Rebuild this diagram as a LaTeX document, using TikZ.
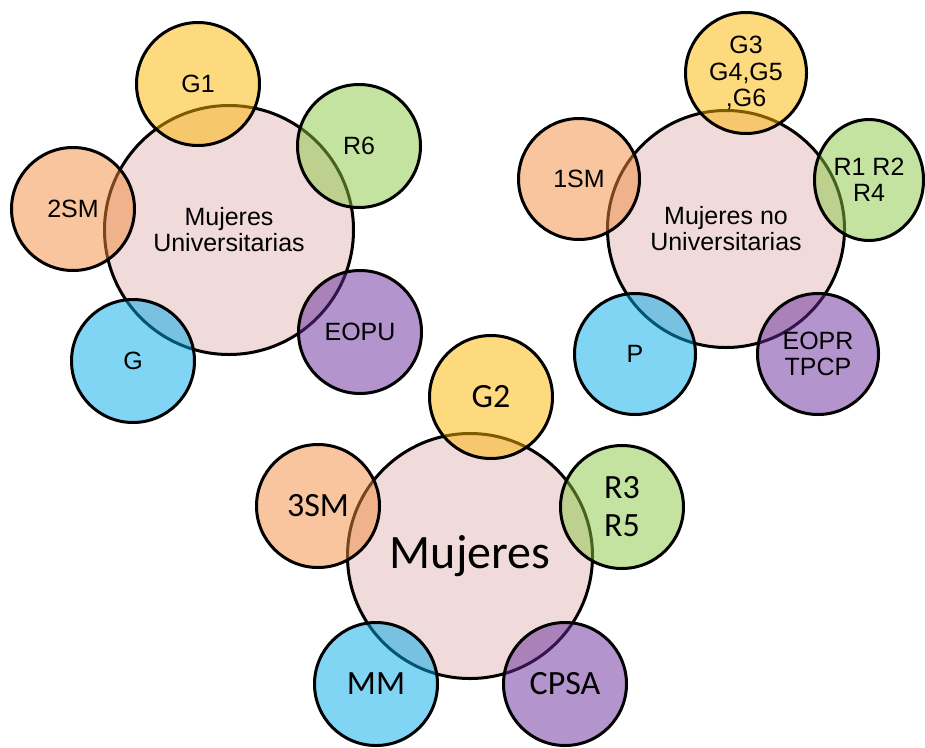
\documentclass[tikz,border=0pt]{standalone}
\usepackage{fontspec}
\setmainfont{Liberation Sans}
\newfontfamily\calfont{Carlito}
\usetikzlibrary{shapes.geometric}
\definecolor{cpink}{RGB}{240,218,218}
\definecolor{cyel}{RGB}{253,181,0}
\definecolor{cgrn}{RGB}{139,199,65}
\definecolor{corg}{RGB}{241,139,61}
\definecolor{cblu}{RGB}{1,169,233}
\definecolor{cpur}{RGB}{103,41,153}
\begin{document}
\begin{tikzpicture}[x=1pt,y=-1pt,
  hub/.style={circle,draw=black,line width=3pt,fill=cpink,inner sep=0pt,minimum size=#1,align=center},
  sat/.style={circle,draw=black,line width=3pt,fill=#1,fill opacity=0.5,text opacity=1,draw opacity=1,inner sep=0pt,minimum size=121pt,align=center},
  satb/.style={sat=#1,minimum size=123pt},
  arialtxt/.style={font=\fontsize{25}{26}\selectfont},
  caltxt/.style={font=\calfont\fontsize{34}{38}\selectfont}
  ]
\useasboundingbox (0,0) rectangle (925,747);

% Group 1
\node[hub=249pt,arialtxt] (hu) at (229,230) {Mujeres\\Universitarias};
\node[satb=cyel,arialtxt] (g1) at (198,84) {G1};
\node[satb=cgrn,arialtxt] (r6) at (359,146) {R6};
\node[satb=corg,arialtxt] (sm2) at (73,209) {2SM};
\node[satb=cblu,arialtxt] (g) at (133,361) {G};
\node[satb=cpur,arialtxt] (eopu) at (360,332) {EOPU};

% Group 2
\node[hub=237pt,arialtxt] (hn) at (726,229) {Mujeres no\\Universitarias};
\node[sat=cyel,font=\fontsize{25}{26.5}\selectfont] (g3) at (746,73) {G3\\G4,G5\\,G6};
\node[sat=corg,arialtxt] (sm1) at (579,179) {1SM};
\node[sat=cgrn,arialtxt,ellipse,minimum width=109pt,minimum height=121pt] (r1) at (869,180) {R1 R2\\R4};
\node[sat=cblu,arialtxt] (p) at (635,354) {P};
\node[sat=cpur,arialtxt] (eopr) at (818,354) {EOPR\\TPCP};

% Group 3
\node[hub=245pt,font=\calfont\fontsize{48}{52}\selectfont] (hm) at (470,556) {Mujeres};
\node[satb=cyel,caltxt] (g2) at (491,397) {G2};
\node[satb=corg,caltxt] (sm3) at (318,506) {3SM};
\node[satb=cgrn,caltxt] (r3) at (622,507) {R3\\R5};
\node[satb=cblu,caltxt] (mm) at (376,684) {MM};
\node[satb=cpur,caltxt] (cpsa) at (565,684) {CPSA};
\end{tikzpicture}
\end{document}
